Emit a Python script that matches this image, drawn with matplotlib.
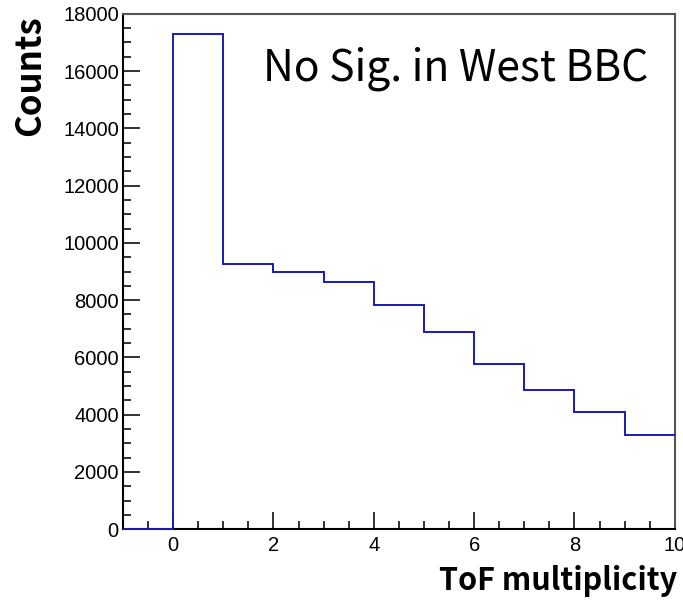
import matplotlib
matplotlib.use("Agg")
from matplotlib import pyplot as plt
from matplotlib.ticker import MultipleLocator

# histogram bins (ToF multiplicity) and counts
bin_edges = [-1, 0, 1, 2, 3, 4, 5, 6, 7, 8, 9, 10]
counts = [0, 17300, 9270, 8990, 8640, 7830, 6890, 5770, 4860, 4090, 3290]

x_label = "ToF multiplicity"
y_label = "Counts"
title = "No Sig. in West BBC"

cjk = ["Noto Sans CJK KR", "DejaVu Sans"]

fig = plt.figure(figsize=(6.83, 6.0), dpi=100)
ax = fig.add_axes([0.180, 0.118, 0.808, 0.859])

ax.stairs(counts, bin_edges, baseline=None, color="#1a1ab4", linewidth=1.4,
          zorder=5, clip_on=False)

ax.set_xlim(-1, 10)
ax.set_ylim(0, 18000)

ax.xaxis.set_major_locator(MultipleLocator(2))
ax.xaxis.set_minor_locator(MultipleLocator(0.5))
ax.yaxis.set_major_locator(MultipleLocator(2000))
ax.yaxis.set_minor_locator(MultipleLocator(500))

ax.tick_params(which="both", direction="in", top=False, right=False, width=1.3, colors="#222222")
ax.tick_params(which="major", length=12)
ax.tick_params(which="minor", length=6)
for lbl in ax.get_xticklabels() + ax.get_yticklabels():
    lbl.set_family("Liberation Sans")
    lbl.set_fontsize(14.5)
    lbl.set_color("black")
ax.tick_params(axis="x", pad=5)
ax.tick_params(axis="y", pad=3)

for side in ["left", "bottom"]:
    ax.spines[side].set_linewidth(1.5)
for side in ["top", "right"]:
    ax.spines[side].set_linewidth(1.5)
    ax.spines[side].set_color("#555555")

fig.text(0.991, 0.005, x_label, ha="right", va="bottom",
         family=cjk, fontweight="bold", fontsize=22)
fig.text(0.018, 0.975, y_label, ha="left", va="top", rotation=90,
         family=cjk, fontweight="bold", fontsize=25)
ax.text(0.952, 0.893, title, transform=ax.transAxes, ha="right", va="center",
        family=cjk, fontsize=30.7)

fig.savefig("out.png", dpi=100)
